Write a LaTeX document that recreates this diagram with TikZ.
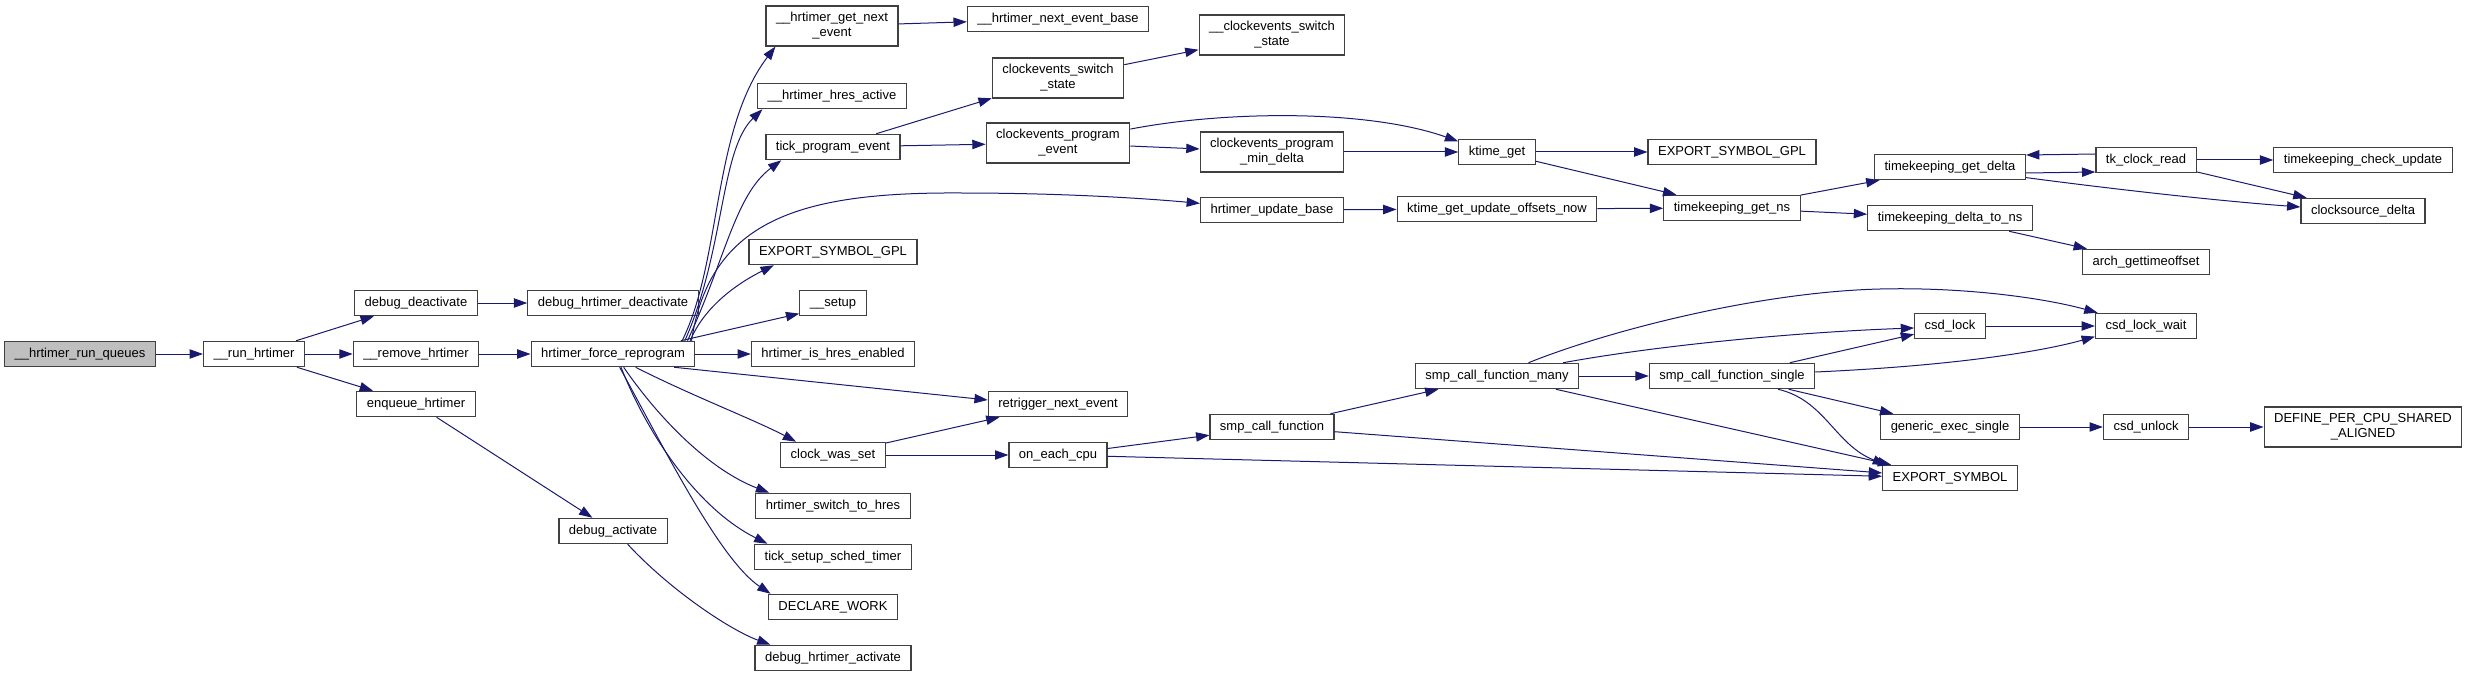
\documentclass[tikz,border=0pt]{standalone}
\usepackage{fontspec}
\setmainfont{Liberation Sans}
\usetikzlibrary{arrows.meta}
\definecolor{callblue}{RGB}{25,25,112}
\definecolor{boxline}{RGB}{64,64,64}
\definecolor{rootfill}{RGB}{191,191,191}
\tikzset{
  func/.style={draw=boxline, fill=white, line width=0.9pt, inner xsep=7.5pt, inner ysep=2pt,
    minimum height=19pt, text height=7pt, text depth=2.2pt, align=center,
    font=\fontsize{9.75}{11.25}\selectfont},
  func2/.style={draw=boxline, fill=white, line width=0.9pt, inner xsep=7.5pt, inner ysep=2pt,
    minimum height=30pt, align=center, font=\fontsize{9.75}{11.25}\selectfont},
  entry/.style={func, fill=rootfill},
  callarrow/.style={->, draw=callblue, line width=0.75pt}
}
\begin{document}
\begin{tikzpicture}[x=0.75pt, y=-0.75pt, >={Triangle[length=10pt,width=7pt]}]
  \useasboundingbox (0,0) rectangle (2472,677);

  % 1. left part of the graph
  \node[entry] (root) at (80,354) {\_\_hrtimer\_run\_queues};
  \node[func] (runhr) at (254,354) {\_\_run\_hrtimer};
  \node[func] (dbgdeact) at (416,303) {debug\_deactivate};
  \node[func] (rmhr) at (416,354) {\_\_remove\_hrtimer};
  \node[func] (enq) at (416,404) {enqueue\_hrtimer};
  \node[func] (dbghrdeact) at (613,303) {debug\_hrtimer\_deactivate};
  \node[func] (force) at (613,354) {hrtimer\_force\_reprogram};
  \node[func] (dbgact) at (613,531) {debug\_activate};

  % 2. callees of hrtimer_force_reprogram
  \node[func2] (getnext) at (832,26) {\_\_hrtimer\_get\_next\\\_event};
  \node[func] (hresact) at (832,96) {\_\_hrtimer\_hres\_active};
  \node[func] (tickprog) at (833,147) {tick\_program\_event};
  \node[func] (expgpl) at (833,252) {EXPORT\_SYMBOL\_GPL};
  \node[func] (setup) at (833,303) {\_\_setup};
  \node[func] (hresen) at (833,354) {hrtimer\_is\_hres\_enabled};
  \node[func] (clkset) at (833,455) {clock\_was\_set};
  \node[func] (switchhres) at (833,506) {hrtimer\_switch\_to\_hres};
  \node[func] (schedtimer) at (833,557) {tick\_setup\_sched\_timer};
  \node[func] (declwork) at (833,607) {DECLARE\_WORK};
  \node[func] (dbghract) at (833,658) {debug\_hrtimer\_activate};

  % 3. middle columns
  \node[func] (nextbase) at (1058,19) {\_\_hrtimer\_next\_event\_base};
  \node[func2] (cesw) at (1058,78) {clockevents\_switch\\\_state};
  \node[func2] (ceprog) at (1058,143) {clockevents\_program\\\_event};
  \node[func] (retrig) at (1058,404) {retrigger\_next\_event};
  \node[func] (onecpu) at (1058,455) {on\_each\_cpu};
  \node[func2] (cesw2) at (1272,35) {\_\_clockevents\_switch\\\_state};
  \node[func2] (cemin) at (1272,152) {clockevents\_program\\\_min\_delta};
  \node[func] (updbase) at (1272,210) {hrtimer\_update\_base};
  \node[func] (smpcall) at (1272,427) {smp\_call\_function};
  \node[func] (ktget) at (1497,152) {ktime\_get};
  \node[func] (ktupd) at (1497,209) {ktime\_get\_update\_offsets\_now};
  \node[func] (smpmany) at (1497,376) {smp\_call\_function\_many};
  \node[func] (expgpl2) at (1732,152) {EXPORT\_SYMBOL\_GPL};
  \node[func] (tkns) at (1732,208) {timekeeping\_get\_ns};
  \node[func] (smpsingle) at (1732,376) {smp\_call\_function\_single};

  % 4. right columns
  \node[func] (tkdelta) at (1950,167) {timekeeping\_get\_delta};
  \node[func] (tkdns) at (1950,218) {timekeeping\_delta\_to\_ns};
  \node[func] (csdlock) at (1950,326) {csd\_lock};
  \node[func] (genexec) at (1950,427) {generic\_exec\_single};
  \node[func] (expsym) at (1950,478) {EXPORT\_SYMBOL};
  \node[func] (tkread) at (2146,160) {tk\_clock\_read};
  \node[func] (archoff) at (2146,262) {arch\_gettimeoffset};
  \node[func] (csdwait) at (2146,326) {csd\_lock\_wait};
  \node[func] (csdunlock) at (2146,427) {csd\_unlock};
  \node[func] (tkcheck) at (2363,160) {timekeeping\_check\_update};
  \node[func] (csdelta) at (2363,211) {clocksource\_delta};
  \node[func2] (defpcpu) at (2363,427) {DEFINE\_PER\_CPU\_SHARED\\\_ALIGNED};

  % 5. calls on the left
  \draw[callarrow] (root) -- (runhr);
  \draw[callarrow] (runhr) -- (dbgdeact);
  \draw[callarrow] (runhr) -- (rmhr);
  \draw[callarrow] (runhr) -- (enq);
  \draw[callarrow] (dbgdeact) -- (dbghrdeact);
  \draw[callarrow] (rmhr) -- (force);
  \draw[callarrow] (enq) -- (dbgact);
  \draw[callarrow] ([xshift=11pt]dbgact.south) .. controls (670,590) and (730,630) .. ([xshift=12pt]dbghract.north west);

  % 6. fan out of hrtimer_force_reprogram
  \draw[callarrow] ([xshift=-10pt]force.north east) .. controls (722,260) and (712,130) .. ([xshift=7.5pt]getnext.south west);
  \draw[callarrow] ([xshift=-8pt]force.north east) .. controls (725,250) and (720,150) .. ([xshift=4pt]hresact.south west);
  \draw[callarrow] ([xshift=-6pt]force.north east) .. controls (725,260) and (735,195) .. ([xshift=12pt]tickprog.south west);
  \draw[callarrow] ([xshift=-3pt]force.north east) .. controls (710,220) and (800,192) .. (960,193)
    .. controls (1060,193) and (1140,198) .. ([yshift=5pt]updbase.west);
  \draw[callarrow] ([xshift=-4pt]force.north east) .. controls (705,305) and (740,282) .. ([xshift=19pt]expgpl.south west);
  \draw[callarrow] ([xshift=-11pt]force.north east) -- ([yshift=2pt]setup.south west);
  \draw[callarrow] (force) -- (hresen);
  \draw[callarrow] ([xshift=-16pt]force.south east) -- ([yshift=3pt]retrig.west);
  \draw[callarrow] ([xshift=17pt]force.south) .. controls (690,395) and (755,420) .. ([xshift=12pt]clkset.north west);
  \draw[callarrow] ([xshift=8pt]force.south) .. controls (660,420) and (710,470) .. ([xshift=10.5pt]switchhres.north west);
  \draw[callarrow] ([xshift=6pt]force.south) .. controls (650,440) and (700,510) .. ([xshift=10pt]schedtimer.north west);
  \draw[callarrow] ([xshift=5pt]force.south) .. controls (665,450) and (720,560) .. ([xshift=2pt]declwork.north west);

  % 7. clock events and timekeeping
  \draw[callarrow] (getnext) -- (nextbase);
  \draw[callarrow] (tickprog) -- (cesw);
  \draw[callarrow] (tickprog) -- (ceprog);
  \draw[callarrow] (cesw) -- (cesw2);
  \draw[callarrow] ([yshift=-5pt]ceprog.north east) .. controls (1230,110) and (1370,110) .. ([yshift=-2pt]ktget.north west);
  \draw[callarrow] (ceprog) -- (cemin);
  \draw[callarrow] (cemin) -- (ktget);
  \draw[callarrow] (updbase) -- (ktupd);
  \draw[callarrow] (ktupd) -- (tkns);
  \draw[callarrow] (ktget) -- (expgpl2);
  \draw[callarrow] (ktget) -- (tkns);
  \draw[callarrow] (tkns) -- (tkdelta);
  \draw[callarrow] (tkns) -- (tkdns);
  \draw[callarrow] ([yshift=-4.5pt]tkdelta.east) -- ([yshift=-9pt]tkread.west);
  \draw[callarrow] ([yshift=4.5pt]tkread.west) -- ([yshift=9pt]tkdelta.east);
  \draw[callarrow] ([yshift=2pt]tkdelta.south east) .. controls (2120,190) and (2220,201) .. ([yshift=3pt]csdelta.west);
  \draw[callarrow] (tkread) -- (tkcheck);
  \draw[callarrow] (tkread) -- (csdelta);
  \draw[callarrow] (tkdns) -- (archoff);

  % 8. cross calls of clock_was_set
  \draw[callarrow] (clkset) -- (retrig);
  \draw[callarrow] (clkset) -- (onecpu);
  \draw[callarrow] (onecpu) -- (smpcall);
  \draw[callarrow] (onecpu) -- (expsym);
  \draw[callarrow] (smpcall) -- (smpmany);
  \draw[callarrow] (smpcall) -- (expsym);
  \draw[callarrow] (smpmany) -- (smpsingle);
  \draw[callarrow] (smpmany) -- (expsym);
  \draw[callarrow] ([xshift=-12pt]smpmany.north east) .. controls (1660,345) and (1800,332) .. ([yshift=-1.5pt]csdlock.west);
  \draw[callarrow] ([xshift=-38pt]smpmany.north east) .. controls (1610,330) and (1760,292) .. (1880,289)
    .. controls (1960,287) and (2040,297) .. ([xshift=2pt]csdwait.north west);
  \draw[callarrow] (smpsingle) -- (genexec);
  \draw[callarrow] ([xshift=34.5pt]smpsingle.south) .. controls (1825,400) and (1835,445) .. ([xshift=3pt]expsym.north west);
  \draw[callarrow] (smpsingle) -- (csdlock);
  \draw[callarrow] ([yshift=3pt]smpsingle.east) .. controls (1950,366) and (2040,352) .. ([yshift=2pt]csdwait.south west);
  \draw[callarrow] (csdlock) -- (csdwait);
  \draw[callarrow] (genexec) -- (csdunlock);
  \draw[callarrow] (csdunlock) -- (defpcpu);
\end{tikzpicture}
\end{document}
